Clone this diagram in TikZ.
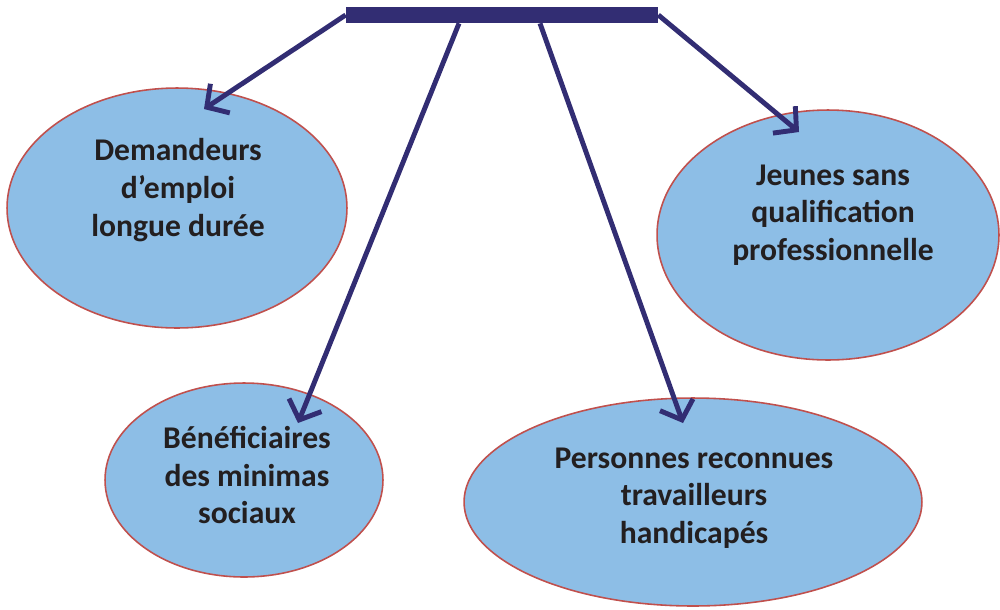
\documentclass[tikz,border=0pt]{standalone}
\usepackage{fontspec}
\setmainfont{Carlito}
\usetikzlibrary{shapes.geometric,arrows.meta}
\definecolor{barblue}{RGB}{50,45,115}
\definecolor{cellblue}{RGB}{141,190,230}
\definecolor{rimred}{RGB}{192,80,77}
\definecolor{inkgray}{RGB}{35,31,32}

\begin{document}
\begin{tikzpicture}[x=0.02cm,y=-0.02cm,
    bulle/.style={ellipse,draw=rimred,line width=0.9pt,fill=cellblue,inner sep=0pt},
    legende/.style={align=center,text=inkgray,font=\bfseries\fontsize{18}{21.5}\selectfont},
    fleche/.style={draw=barblue,line width=2.8pt,-{Straight Barb[length=3.2mm,width=7mm,line width=2.8pt]}}]
  \useasboundingbox (0,0) rectangle (1000,609);
  \node[fill=barblue,minimum width=6.24cm,minimum height=0.32cm,inner sep=0pt] (barre) at (502,15) {};
  % les quatre publics
  \node[bulle,minimum width=6.8cm,minimum height=4.8cm] (demandeurs) at (177,208) {};
  \node[bulle,minimum width=6.84cm,minimum height=5cm] (jeunes) at (828,235) {};
  \node[bulle,minimum width=5.56cm,minimum height=3.88cm] (beneficiaires) at (244,480) {};
  \node[bulle,minimum width=9.16cm,minimum height=4.16cm] (personnes) at (693,502) {};
  \node[legende] (t1) at (178,190) {Demandeurs\\d’emploi\\longue durée};
  \node[legende] (t2) at (833,215) {Jeunes sans\\qualification\\professionnelle};
  \node[legende] (t3) at (247,475) {Bénéficiaires\\des minimas\\sociaux};
  \node[legende] (t4) at (694,498) {Personnes reconnues\\travailleurs\\handicapés};
  \coordinate (p1) at (204,109);
  \coordinate (p2) at (298,423);
  \coordinate (p3) at (683,423);
  \coordinate (p4) at (799,132);
  \draw[fleche] (barre.west) -- (p1);
  \draw[fleche] ([xshift=-0.86cm]barre.south) -- (p2);
  \draw[fleche] ([xshift=0.76cm]barre.south) -- (p3);
  \draw[fleche] (barre.east) -- (p4);
\end{tikzpicture}
\end{document}
